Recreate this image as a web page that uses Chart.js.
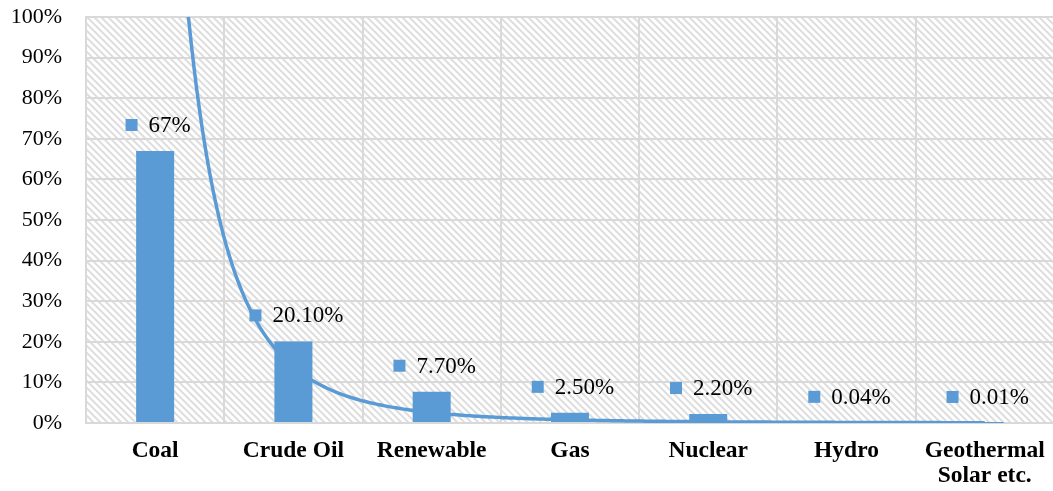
<!DOCTYPE html>
<html>
<head>
<meta charset="utf-8">
<script src="https://cdn.jsdelivr.net/npm/chart.js@4.4.1/dist/chart.umd.min.js"></script>
<style>
    html, body { margin: 0; padding: 0; background: #fff; overflow: hidden; }
    #wrap { width: 1060px; height: 491px; }
</style>
</head>
<body>
<div id="wrap"><canvas id="energyChart" width="1060" height="491"></canvas></div>
<script>
// Share of each energy source (%)
const sources = ['Coal', 'Crude Oil', 'Renewable', 'Gas', 'Nuclear', 'Hydro', ['Geothermal', 'Solar etc.']];
const shares = [67, 20.1, 7.7, 2.5, 2.2, 0.04, 0.01];
const shareLabels = ['67%', '20.10%', '7.70%', '2.50%', '2.20%', '0.04%', '0.01%'];
const yTicks = [0, 10, 20, 30, 40, 50, 60, 70, 80, 90, 100];

const BLUE = '#5B9BD5';
const GRID = '#d9d9d9';
const FONT = "'Liberation Serif', 'Times New Roman', serif";

// Power trendline (least squares on ln x / ln y), like the spreadsheet one
function powerFit(values) {
    const n = values.length;
    let sx = 0, sy = 0, sxx = 0, sxy = 0;
    values.forEach((v, i) => {
        const lx = Math.log(i + 1), ly = Math.log(v);
        sx += lx; sy += ly; sxx += lx * lx; sxy += lx * ly;
    });
    const b = (n * sxy - sx * sy) / (n * sxx - sx * sx);
    const a = Math.exp((sy - b * sx) / n);
    return x => a * Math.pow(x, b);
}

const trend = powerFit(shares);
const trendPoints = [];
for (let i = 0; i <= 300; i++) {
    const x = 1 + i * (shares.length - 1) / 300;
    trendPoints.push({ x: x, y: trend(x) });
}

// Diagonal hatch for the plot background
function makeHatch() {
    const s = 7;
    const c = document.createElement('canvas');
    c.width = s; c.height = s;
    const g = c.getContext('2d');
    g.fillStyle = '#fff';
    g.fillRect(0, 0, s, s);
    g.strokeStyle = '#dedede';
    g.lineWidth = 2;
    g.beginPath();
    g.moveTo(-2, -2); g.lineTo(s + 2, s + 2);
    g.moveTo(-2, s - 2); g.lineTo(2, s + 2);
    g.moveTo(s - 2, -2); g.lineTo(s + 2, 2);
    g.stroke();
    return c;
}

const hatchBackground = {
    id: 'hatchBackground',
    beforeDraw(chart) {
        const { ctx, chartArea: a } = chart;
        ctx.save();
        ctx.fillStyle = ctx.createPattern(makeHatch(), 'repeat');
        ctx.fillRect(a.left, a.top, a.right - a.left, a.bottom - a.top);
        ctx.restore();
    }
};

// Value label with a small square key above each bar
const shareTags = {
    id: 'shareTags',
    afterDatasetsDraw(chart) {
        const { ctx } = chart;
        const meta = chart.getDatasetMeta(0);
        ctx.save();
        ctx.font = '23px ' + FONT;
        ctx.textBaseline = 'middle';
        meta.data.forEach((bar, i) => {
            const text = shareLabels[i];
            const w = ctx.measureText(text).width;
            const box = 12, gap = 11;
            const left = bar.x + 3 - (box + gap + w) / 2;
            const y = bar.y - 26;
            ctx.fillStyle = BLUE;
            ctx.fillRect(left, y - box / 2, box, box);
            ctx.fillStyle = '#000';
            ctx.textAlign = 'left';
            ctx.fillText(text, left + box + gap, y + 1);
        });
        ctx.restore();
    }
};

new Chart(document.getElementById('energyChart'), {
    data: {
        labels: sources,
        datasets: [{
            type: 'bar',
            data: shares,
            backgroundColor: BLUE,
            barPercentage: 0.275,
            categoryPercentage: 1,
            grouped: false,
            order: 1
        }, {
            type: 'line',
            data: trendPoints,
            xAxisID: 'xt',
            borderColor: BLUE,
            borderWidth: 3.5,
            pointRadius: 0,
            tension: 0,
            order: 2
        }]
    },
    options: {
        responsive: false,
        animation: false,
        layout: { padding: { top: 17, right: 3, left: 0, bottom: 0 } },
        plugins: {
            legend: { display: false },
            tooltip: { enabled: false }
        },
        scales: {
            x: {
                offset: true,
                grid: { color: GRID, lineWidth: 2, offset: true, drawTicks: false },
                border: { color: GRID, width: 2 },
                ticks: {
                    color: '#000',
                    padding: 15,
                    maxRotation: 0,
                    autoSkip: false,
                    font: { family: FONT, size: 23.5, weight: 'bold', lineHeight: 1.08 }
                },
                afterFit(scale) { scale.height = 68; }
            },
            xt: {
                type: 'linear',
                display: false,
                min: 0.5,
                max: shares.length + 0.5
            },
            y: {
                min: 0,
                max: 100,
                afterBuildTicks(scale) { scale.ticks = yTicks.map(v => ({ value: v })); },
                // invisible tick marks keep the labels clear of the plot edge
                grid: { color: GRID, lineWidth: 2, drawTicks: true, tickLength: 21, tickColor: 'rgba(0,0,0,0)' },
                border: { color: GRID, width: 2 },
                ticks: {
                    color: '#000',
                    padding: 3,
                    font: { family: FONT, size: 22 },
                    callback: v => v + '%'
                },
                afterFit(scale) { scale.width = 86; }
            }
        }
    },
    plugins: [hatchBackground, shareTags]
});
</script>
</body>
</html>
